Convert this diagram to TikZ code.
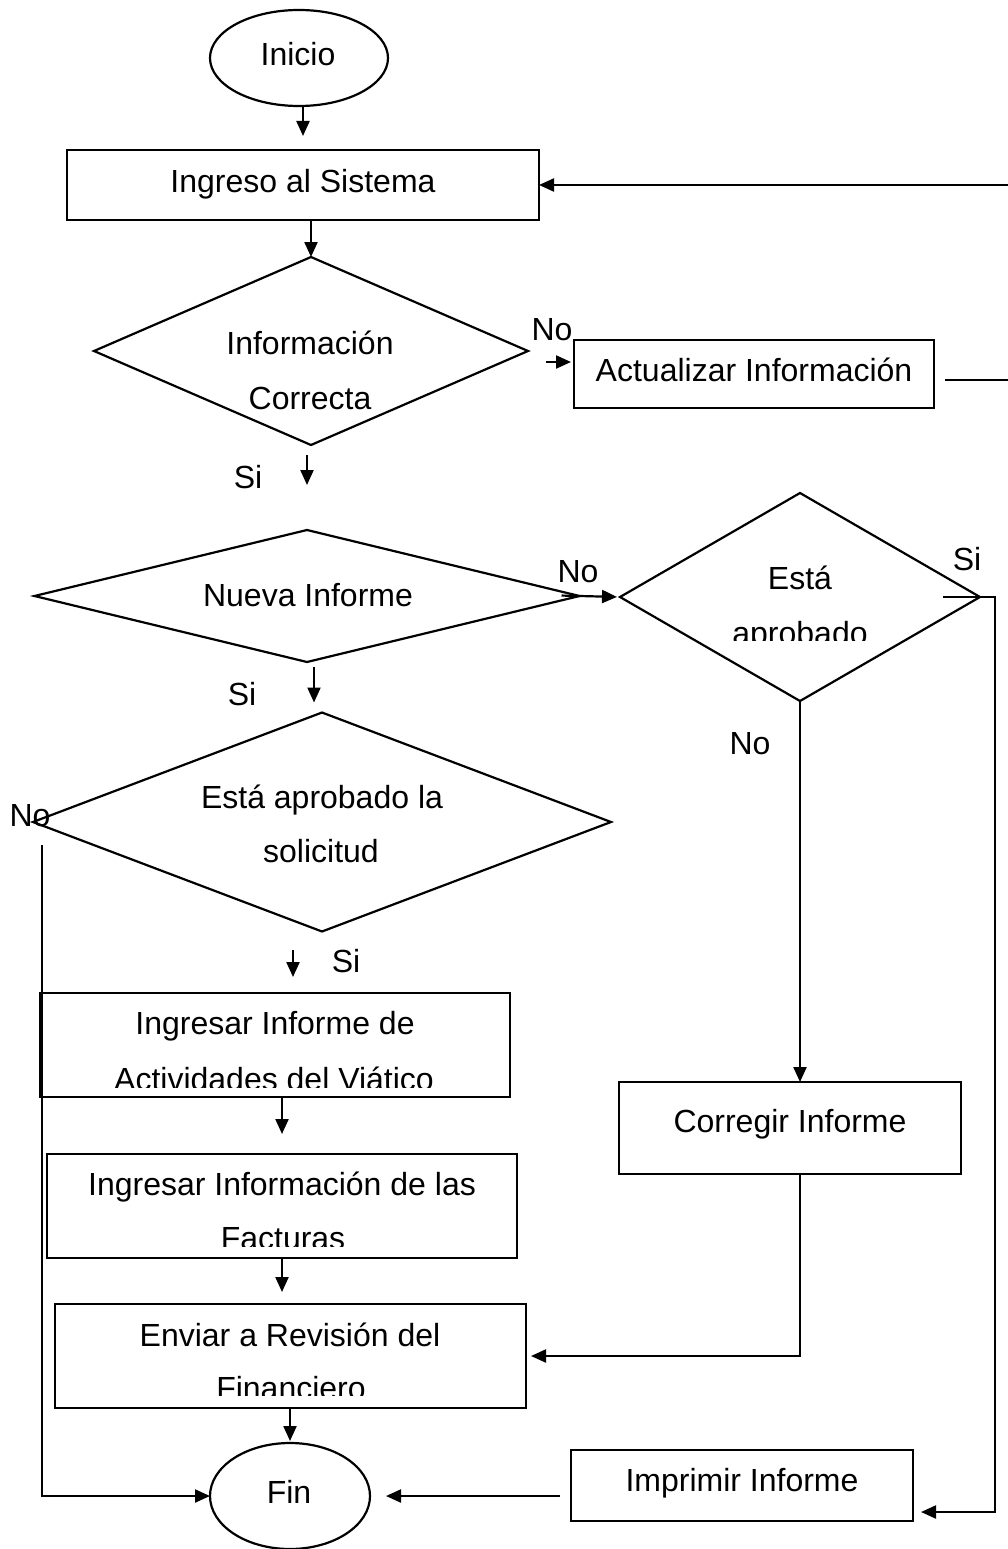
\documentclass[tikz,border=0pt]{standalone}
\usepackage{fontspec}
\setmainfont{Liberation Sans}
\usetikzlibrary{shapes.geometric,arrows.meta,calc}
\tikzset{
  shp/.style={draw, line width=2.2pt, inner sep=0pt, outer sep=0pt},
  box/.style={shp, rectangle},
  dec/.style={shp, diamond},
  term/.style={shp, ellipse},
  txt/.style={font=\fontsize{32}{38}\selectfont, inner sep=0pt, anchor=base},
  arr/.style={line width=2.2pt, -{Triangle[length=15pt,width=13pt]}},
}
\begin{document}
\begin{tikzpicture}[x=1pt,y=-1pt]
\useasboundingbox (0,0) rectangle (1008,1549);
\clip (0,0) rectangle (1008,1549);

% shapes
\node[term, minimum width=178pt, minimum height=96pt] (inicio) at (299,58) {};
\node[box, minimum width=472pt, minimum height=70pt] (ingreso) at (303,185) {};
\node[dec, minimum width=434pt, minimum height=188pt] (d1) at (311,351) {};
\node[box, minimum width=360pt, minimum height=68pt] (act) at (754,374) {};
\node[dec, minimum width=545pt, minimum height=132pt] (d2) at (307,596) {};
\node[dec, minimum width=360pt, minimum height=208pt] (d3) at (800,597) {};
\node[dec, minimum width=578pt, minimum height=219pt] (d4) at (322,822) {};
\node[box, minimum width=342pt, minimum height=92pt] (corr) at (790,1128) {};
\node[box, minimum width=470pt, minimum height=104pt] (box1) at (275,1045) {};
\node[box, minimum width=470pt, minimum height=104pt] (box2) at (282,1206) {};
\node[box, minimum width=471pt, minimum height=104pt] (env) at (290.5,1356) {};
\node[term, minimum width=160pt, minimum height=106pt] (fin) at (290,1496) {};
\node[box, minimum width=342pt, minimum height=71pt] (imp) at (742,1485.5) {};

% texts
\node[txt] (t-inicio) at (298,66) {Inicio};
\node[txt] (t-ingreso) at (303,193) {Ingreso al Sistema};
\node[txt] (t-d1a) at (310,354) {Información};
\node[txt] (t-d1b) at (310,409) {Correcta};
\node[txt] (l-no1) at (552,340) {No};
\node[txt] (t-act) at (754,381) {Actualizar Información};
\node[txt] (l-si1) at (248,488) {Si};
\node[txt] (t-d2) at (308,606) {Nueva Informe};
\node[txt] (l-no2) at (578,582) {No};
\node[txt] (t-d3a) at (800,589) {Está};
\begin{scope}
  \clip (600,600) rectangle (960,640);
  \node[txt] (t-d3b) at (800,644) {aprobado};
\end{scope}
\node[txt] (l-si2) at (967,570) {Si};
\node[txt] (l-si3) at (242,705) {Si};
\node[txt] (l-no3) at (750,754) {No};
\node[txt] (t-d4a) at (322,808) {Está aprobado la};
\node[txt] (t-d4b) at (321,862) {solicitud};
\node[txt] (l-si4) at (346,972) {Si};
\node[txt] (l-no4) at (30,826) {No};
\node[txt] (t-b1a) at (275,1034) {Ingresar Informe de};
\begin{scope}
  \clip (50,1045) rectangle (500,1087);
  \node[txt] (t-b1b) at (274,1090) {Actividades del Viático};
\end{scope}
\node[txt] (t-b2a) at (282,1195) {Ingresar Información de las};
\begin{scope}
  \clip (50,1205) rectangle (510,1246);
  \node[txt] (t-b2b) at (283,1249) {Facturas};
\end{scope}
\node[txt] (t-b3a) at (290,1346) {Enviar a Revisión del};
\begin{scope}
  \clip (60,1355) rectangle (520,1395);
  \node[txt] (t-b3b) at (291,1399) {Financiero};
\end{scope}
\node[txt] (t-fin) at (289,1503) {Fin};
\node[txt] (t-corr) at (790,1132) {Corregir Informe};
\node[txt] (t-imp) at (742,1491) {Imprimir Informe};

% connectors
\draw[arr, shorten >=14pt] (ingreso.north |- inicio.south) -- (ingreso.north);
\draw[arr] (d1.north |- ingreso.south) -- (d1.north);

\coordinate (noA) at (546,362);
\draw[arr, shorten >=3pt] (noA) -- (noA -| act.west);

\coordinate (actOut) at (945,380);
\coordinate (loopB) at (1030,380);
\draw[arr] (actOut) -- (loopB) |- (ingreso.east);

\draw[arr, shorten <=10pt, shorten >=45pt] (d2.north |- d1.south) -- (d2.north);
\draw[arr, shorten <=-18pt, shorten >=3pt] (d2.east) -- (d3.west);

\draw[arr] (d3.south) -- (d3.south |- corr.north);

\coordinate (siS) at (943,597);
\coordinate (siR) at (995,597);
\coordinate (siD) at (995,1512);
\draw[arr, shorten >=8pt] (siS) -- (siR) -- (siD) -- (siD -| imp.east);

\draw[arr, shorten >=5pt] (d3.south |- corr.south) |- (env.east);

\coordinate (siC) at (314,667);
\draw[arr, shorten >=10pt] (siC) -- (siC |- d4.north);

\coordinate (siB) at (293,950);
\draw[arr, shorten >=16pt] (siB) -- (siB |- box1.north);

\coordinate (noL) at (42,845);
\draw[arr] (noL) |- (fin.west);

\draw[arr, shorten >=20pt] (box2.north |- box1.south) -- (box2.north);
\draw[arr, shorten >=12pt] (box2.south) -- (box2.south |- env.north);
\draw[arr, shorten >=2pt] (fin.north |- env.south) -- (fin.north);
\draw[arr, shorten <=11pt, shorten >=16pt] (fin.east -| imp.west) -- (fin.east);
\end{tikzpicture}
\end{document}
